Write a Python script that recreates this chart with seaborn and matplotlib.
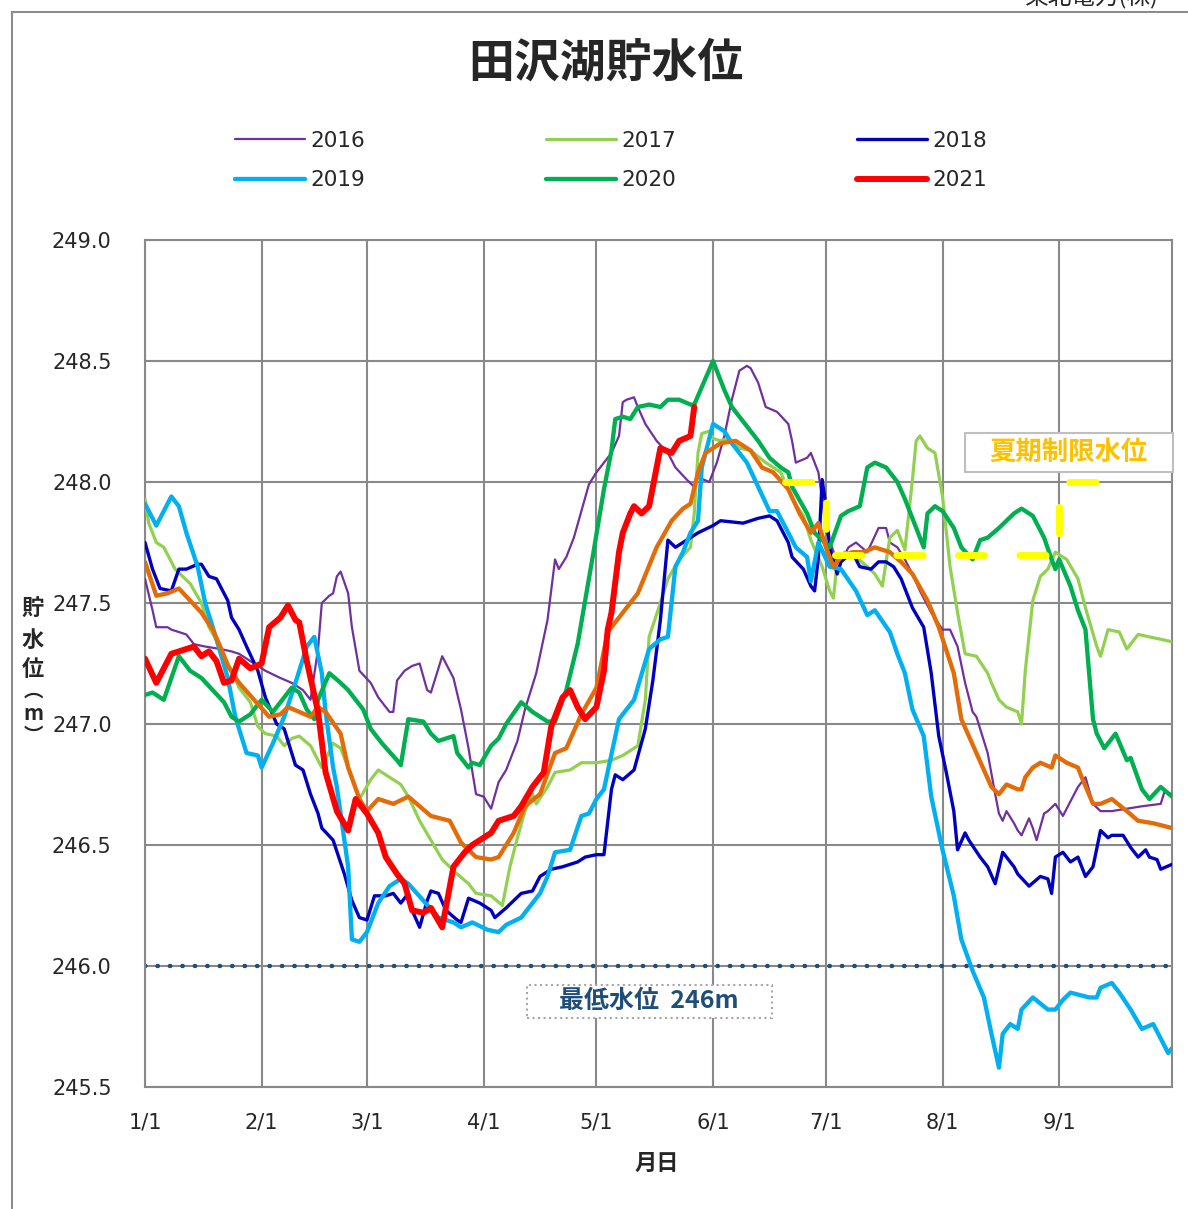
import pandas as pd
import seaborn as sns
import matplotlib.pyplot as plt
from matplotlib.patches import Rectangle

# 田沢湖 貯水位 (m)：(1/1 からの通し日数, 水位)
lv2016 = [(0, 247.60), (2, 247.47), (3, 247.40), (6, 247.40), (7, 247.39), (9, 247.38), (11, 247.37),
          (13, 247.33), (16, 247.32), (20, 247.31), (23, 247.30), (25, 247.29), (29, 247.25), (32, 247.22),
          (36, 247.19), (39, 247.17), (42, 247.14), (44, 247.10), (46, 247.31), (47, 247.50), (49, 247.53),
          (50, 247.54), (51, 247.61), (52, 247.63), (54, 247.54), (55, 247.40), (57, 247.22), (60, 247.17),
          (62, 247.11), (65, 247.05), (66, 247.05), (67, 247.18), (69, 247.22), (71, 247.24), (73, 247.25),
          (75, 247.14), (76, 247.13), (79, 247.28), (82, 247.19), (84, 247.06), (86, 246.90), (88, 246.71),
          (90, 246.70), (92, 246.65), (94, 246.76), (96, 246.81), (99, 246.93), (101, 247.06), (104, 247.21),
          (107, 247.43), (109, 247.68), (110, 247.64), (112, 247.69), (114, 247.77), (116, 247.88),
          (118, 247.99), (120, 248.04), (122, 248.08), (124, 248.12), (126, 248.19), (127, 248.33),
          (128, 248.34), (130, 248.35), (131, 248.31), (133, 248.24), (136, 248.17), (139, 248.12),
          (141, 248.06), (144, 248.01), (146, 247.98), (147, 248.02), (150, 248.00), (152, 248.08),
          (154, 248.19), (156, 248.34), (158, 248.46), (160, 248.48), (161, 248.47), (163, 248.41),
          (165, 248.31), (168, 248.29), (171, 248.24), (172, 248.17), (173, 248.08), (176, 248.10),
          (177, 248.12), (179, 248.04), (180, 247.93), (181, 247.80), (184, 247.67), (185, 247.67),
          (187, 247.73), (189, 247.75), (192, 247.71), (195, 247.81), (197, 247.81), (198, 247.75),
          (200, 247.73), (202, 247.68), (204, 247.62), (206, 247.55), (209, 247.46), (212, 247.39),
          (214, 247.39), (216, 247.32), (218, 247.17), (220, 247.05), (221, 247.03), (224, 246.88),
          (226, 246.71), (227, 246.63), (228, 246.60), (229, 246.64), (231, 246.59), (232, 246.56),
          (233, 246.54), (235, 246.61), (236, 246.57), (237, 246.52), (239, 246.63), (240, 246.64),
          (242, 246.67), (244, 246.62), (246, 246.68), (248, 246.74), (250, 246.78), (252, 246.67),
          (254, 246.64), (257, 246.64), (265, 246.66), (270, 246.67), (271, 246.72), (273, 246.71)]

lv2017 = [(0, 247.93), (1, 247.83), (3, 247.75), (5, 247.73), (8, 247.64), (10, 247.61), (12, 247.58),
          (15, 247.50), (17, 247.40), (20, 247.32), (23, 247.22), (25, 247.15), (28, 247.09), (30, 246.99),
          (32, 246.96), (35, 246.95), (37, 246.91), (39, 246.94), (41, 246.95), (44, 246.91), (46, 246.85),
          (47, 246.82), (50, 246.92), (52, 246.90), (55, 246.78), (57, 246.69), (60, 246.77), (62, 246.81),
          (65, 246.78), (68, 246.75), (70, 246.70), (73, 246.60), (76, 246.52), (79, 246.44), (83, 246.38),
          (86, 246.34), (88, 246.30), (92, 246.29), (95, 246.25), (97, 246.41), (99, 246.53), (101, 246.64),
          (103, 246.71), (104, 246.67), (107, 246.74), (109, 246.80), (113, 246.81), (116, 246.84),
          (120, 246.84), (124, 246.85), (127, 246.87), (131, 246.91), (133, 247.10), (134, 247.36),
          (137, 247.50), (139, 247.60), (142, 247.68), (145, 247.73), (146, 247.87), (147, 248.12),
          (148, 248.20), (150, 248.21), (151, 248.18), (153, 248.17), (155, 248.18), (158, 248.14),
          (161, 248.13), (165, 248.08), (169, 248.04), (172, 247.93), (175, 247.86), (177, 247.76),
          (180, 247.65), (182, 247.55), (183, 247.52), (184, 247.67), (186, 247.71), (189, 247.69),
          (192, 247.65), (194, 247.62), (196, 247.57), (198, 247.77), (200, 247.80), (202, 247.72),
          (204, 248.01), (205, 248.17), (206, 248.19), (208, 248.14), (210, 248.12), (212, 247.94),
          (214, 247.65), (216, 247.46), (218, 247.29), (221, 247.28), (224, 247.21), (225, 247.17),
          (227, 247.10), (229, 247.07), (232, 247.05), (233, 247.00), (234, 247.22), (236, 247.51),
          (238, 247.61), (240, 247.64), (242, 247.71), (245, 247.68), (248, 247.60), (250, 247.48),
          (253, 247.32), (254, 247.28), (256, 247.39), (259, 247.38), (261, 247.31), (264, 247.37),
          (267, 247.36), (270, 247.35), (273, 247.34)]

lv2018 = [(0, 247.75), (2, 247.64), (4, 247.56), (7, 247.55), (9, 247.64), (11, 247.64), (14, 247.66),
          (15, 247.66), (17, 247.61), (19, 247.60), (22, 247.51), (23, 247.44), (25, 247.39), (27, 247.32),
          (30, 247.22), (32, 247.11), (35, 247.00), (37, 246.98), (40, 246.83), (42, 246.81), (44, 246.71),
          (46, 246.63), (47, 246.57), (50, 246.52), (53, 246.38), (55, 246.27), (57, 246.20), (59, 246.19),
          (61, 246.29), (64, 246.29), (66, 246.30), (68, 246.26), (70, 246.30), (71, 246.23), (73, 246.16),
          (75, 246.27), (76, 246.31), (78, 246.30), (80, 246.23), (83, 246.19), (84, 246.18), (86, 246.28),
          (89, 246.26), (92, 246.23), (93, 246.20), (96, 246.24), (100, 246.30), (103, 246.31),
          (105, 246.37), (108, 246.40), (111, 246.41), (115, 246.43), (117, 246.45), (120, 246.46),
          (122, 246.46), (124, 246.73), (125, 246.79), (127, 246.77), (130, 246.81), (133, 246.98),
          (135, 247.18), (137, 247.43), (139, 247.76), (141, 247.73), (144, 247.76), (147, 247.79),
          (151, 247.82), (153, 247.84), (159, 247.83), (163, 247.85), (166, 247.86), (168, 247.84),
          (171, 247.75), (172, 247.69), (175, 247.64), (177, 247.57), (178, 247.55), (179, 247.69),
          (180, 248.01), (181, 247.90), (182, 247.73), (184, 247.62), (185, 247.67), (188, 247.71),
          (190, 247.65), (193, 247.64), (195, 247.67), (197, 247.67), (199, 247.65), (201, 247.60),
          (204, 247.48), (207, 247.40), (209, 247.21), (211, 246.95), (213, 246.80), (215, 246.64),
          (216, 246.48), (218, 246.55), (219, 246.52), (222, 246.45), (224, 246.41), (226, 246.34),
          (228, 246.47), (231, 246.41), (232, 246.38), (235, 246.33), (238, 246.37), (240, 246.36),
          (241, 246.30), (242, 246.45), (244, 246.47), (246, 246.43), (248, 246.45), (250, 246.37),
          (252, 246.41), (254, 246.56), (256, 246.53), (257, 246.54), (260, 246.54), (262, 246.49),
          (264, 246.45), (266, 246.48), (267, 246.45), (269, 246.44), (270, 246.40), (273, 246.42)]

lv2019 = [(0, 247.91), (3, 247.82), (7, 247.94), (9, 247.90), (11, 247.79), (14, 247.65), (16, 247.50),
          (19, 247.35), (22, 247.19), (24, 247.03), (27, 246.88), (30, 246.87), (31, 246.82), (34, 246.92),
          (37, 247.03), (40, 247.17), (43, 247.32), (45, 247.36), (47, 247.21), (48, 247.05), (50, 246.82),
          (51, 246.74), (54, 246.41), (55, 246.11), (57, 246.10), (59, 246.14), (62, 246.26), (65, 246.33),
          (68, 246.36), (70, 246.34), (74, 246.27), (78, 246.20), (82, 246.18), (84, 246.16), (87, 246.18),
          (91, 246.15), (94, 246.14), (96, 246.17), (100, 246.20), (103, 246.26), (105, 246.30),
          (107, 246.37), (109, 246.47), (113, 246.48), (116, 246.62), (118, 246.63), (120, 246.69),
          (122, 246.73), (126, 247.02), (130, 247.10), (134, 247.31), (137, 247.35), (139, 247.36),
          (141, 247.65), (143, 247.71), (145, 247.79), (147, 247.84), (148, 248.06), (151, 248.24),
          (154, 248.21), (156, 248.16), (160, 248.08), (163, 247.98), (166, 247.88), (168, 247.88),
          (171, 247.79), (173, 247.73), (176, 247.69), (177, 247.59), (179, 247.75), (182, 247.65),
          (185, 247.64), (189, 247.55), (192, 247.45), (194, 247.47), (198, 247.38), (200, 247.29),
          (202, 247.21), (204, 247.06), (207, 246.95), (209, 246.70), (212, 246.48), (215, 246.29),
          (217, 246.11), (220, 245.98), (223, 245.87), (225, 245.72), (227, 245.58), (228, 245.72),
          (230, 245.76), (232, 245.74), (233, 245.82), (236, 245.87), (240, 245.82), (242, 245.82),
          (244, 245.86), (246, 245.89), (251, 245.87), (253, 245.87), (254, 245.91), (257, 245.93),
          (259, 245.89), (262, 245.82), (265, 245.74), (268, 245.76), (270, 245.70), (272, 245.64),
          (273, 245.66)]

lv2020 = [(0, 247.12), (2, 247.13), (5, 247.10), (7, 247.19), (9, 247.28), (12, 247.22), (15, 247.19),
          (18, 247.14), (21, 247.09), (23, 247.03), (25, 247.01), (28, 247.04), (31, 247.10), (34, 247.05),
          (37, 247.11), (39, 247.15), (41, 247.13), (43, 247.06), (45, 247.02), (46, 247.10), (49, 247.21),
          (52, 247.17), (54, 247.14), (58, 247.06), (60, 246.98), (63, 246.92), (67, 246.85), (68, 246.83),
          (70, 247.02), (74, 247.01), (76, 246.96), (78, 246.93), (82, 246.95), (83, 246.88), (86, 246.82),
          (87, 246.84), (89, 246.83), (92, 246.91), (94, 246.94), (96, 247.00), (100, 247.09),
          (103, 247.05), (107, 247.01), (109, 247.01), (112, 247.14), (115, 247.33), (117, 247.51),
          (119, 247.69), (122, 247.97), (124, 248.13), (125, 248.26), (127, 248.27), (129, 248.26),
          (131, 248.31), (134, 248.32), (137, 248.31), (139, 248.34), (142, 248.34), (145, 248.32),
          (146, 248.32), (151, 248.50), (154, 248.38), (156, 248.31), (160, 248.23), (163, 248.17),
          (166, 248.10), (169, 248.06), (171, 248.04), (172, 247.98), (176, 247.87), (178, 247.79),
          (180, 247.76), (182, 247.73), (185, 247.86), (187, 247.88), (190, 247.90), (192, 248.06),
          (194, 248.08), (197, 248.06), (200, 248.00), (202, 247.93), (205, 247.81), (207, 247.73),
          (208, 247.87), (210, 247.90), (212, 247.88), (215, 247.81), (217, 247.73), (220, 247.68),
          (222, 247.76), (224, 247.77), (227, 247.81), (231, 247.87), (233, 247.89), (236, 247.86),
          (239, 247.77), (241, 247.68), (242, 247.64), (243, 247.68), (246, 247.57), (248, 247.47),
          (250, 247.39), (252, 247.02), (253, 246.96), (255, 246.90), (258, 246.96), (261, 246.85),
          (262, 246.86), (265, 246.73), (267, 246.69), (270, 246.74), (273, 246.70)]

lv2021 = [(0, 247.27), (3, 247.17), (7, 247.29), (13, 247.32), (15, 247.28), (17, 247.30), (19, 247.26),
          (21, 247.17), (23, 247.18), (25, 247.27), (28, 247.23), (31, 247.25), (33, 247.40), (36, 247.44),
          (38, 247.49), (40, 247.43), (41, 247.42), (43, 247.26), (46, 247.05), (48, 246.80), (51, 246.64),
          (54, 246.56), (56, 246.69), (59, 246.63), (62, 246.55), (64, 246.45), (67, 246.38), (69, 246.34),
          (71, 246.23), (74, 246.22), (76, 246.24), (79, 246.16), (82, 246.41), (85, 246.47), (87, 246.50),
          (90, 246.53), (92, 246.55), (94, 246.60), (98, 246.62), (100, 246.66), (103, 246.74),
          (106, 246.80), (108, 246.99), (111, 247.11), (113, 247.14), (115, 247.07), (117, 247.02),
          (120, 247.07), (122, 247.22), (123, 247.39), (124, 247.46), (126, 247.71), (127, 247.79),
          (129, 247.87), (130, 247.90), (132, 247.87), (134, 247.90), (137, 248.14), (140, 248.12),
          (142, 248.17), (145, 248.19), (146, 248.31)]

# 平均 (凡例なし)
lv_avg = [(0, 247.67), (3, 247.53), (6, 247.54), (9, 247.56), (12, 247.51), (15, 247.46), (18, 247.39),
          (20, 247.32), (22, 247.24), (25, 247.17), (29, 247.10), (33, 247.03), (36, 247.04), (38, 247.07),
          (41, 247.05), (44, 247.03), (46, 247.07), (48, 247.05), (52, 246.96), (54, 246.82), (57, 246.69),
          (59, 246.64), (62, 246.69), (66, 246.67), (70, 246.70), (73, 246.66), (76, 246.62), (81, 246.60),
          (84, 246.51), (88, 246.45), (92, 246.44), (94, 246.45), (98, 246.55), (101, 246.66),
          (105, 246.71), (109, 246.88), (112, 246.90), (116, 247.04), (120, 247.15), (123, 247.38),
          (128, 247.48), (131, 247.54), (136, 247.73), (140, 247.84), (143, 247.89), (145, 247.91),
          (147, 248.04), (149, 248.12), (153, 248.16), (157, 248.17), (161, 248.13), (164, 248.06),
          (167, 248.04), (171, 247.97), (174, 247.87), (177, 247.79), (179, 247.83), (181, 247.73),
          (183, 247.65), (185, 247.69), (188, 247.71), (191, 247.71), (194, 247.73), (198, 247.71),
          (201, 247.67), (204, 247.62), (208, 247.51), (211, 247.40), (215, 247.21), (217, 247.02),
          (221, 246.88), (225, 246.74), (227, 246.71), (229, 246.75), (232, 246.73), (233, 246.73),
          (234, 246.78), (236, 246.82), (238, 246.84), (241, 246.82), (242, 246.87), (245, 246.84),
          (248, 246.82), (249, 246.78), (252, 246.67), (254, 246.67), (257, 246.69), (261, 246.64),
          (264, 246.60), (268, 246.59), (273, 246.57)]

# 夏期制限水位 と 最低水位
limit_days = [170, 181, 181, 243, 243, 260]
limit_levels = [248.0, 248.0, 247.7, 247.7, 248.0, 248.0]
min_days = [0, 273]
min_levels = [246.0, 246.0]

month_ticks = [0, 31, 59, 90, 120, 151, 181, 212, 243]
month_labels = ["1/1", "2/1", "3/1", "4/1", "5/1", "6/1", "7/1", "8/1", "9/1"]
y_ticks = [245.5, 246.0, 246.5, 247.0, 247.5, 248.0, 248.5, 249.0]

sns.set_style("white")
plt.rcParams["font.family"] = ["DejaVu Sans", "Noto Sans CJK JP"]
JP = ["Noto Sans CJK JP", "DejaVu Sans"]
GRID = "#898989"

fig = plt.figure(figsize=(11.88, 12.09), dpi=100)
ax = fig.add_axes([145 / 1188, 1 - 1087 / 1209, 1027 / 1188, 847 / 1209])

series = [
    ("2016", lv2016, "#7030a0", 1.6),
    ("2017", lv2017, "#92d050", 2.3),
    ("2018", lv2018, "#0000c0", 2.4),
    ("2019", lv2019, "#00b0f0", 3.1),
    ("2020", lv2020, "#00b050", 3.1),
]
for name, pts, color, lw in series:
    df = pd.DataFrame(pts, columns=["day", "level"])
    sns.lineplot(data=df, x="day", y="level", color=color, lw=lw, label=name,
                 estimator=None, sort=False, ax=ax, zorder=3)

# 平均
df = pd.DataFrame(lv_avg, columns=["day", "level"])
sns.lineplot(data=df, x="day", y="level", color="#e36c09", lw=3.1,
             estimator=None, sort=False, ax=ax, zorder=3)

# 2021 (最前面)
df = pd.DataFrame(lv2021, columns=["day", "level"])
sns.lineplot(data=df, x="day", y="level", color="#ff0000", lw=4.3, label="2021",
             estimator=None, sort=False, ax=ax, zorder=4)

# 最低水位 (点線)
sns.lineplot(x=min_days, y=min_levels, color="#1f4e79", lw=3.2,
             linestyle=(0, (0.1, 2.7)), dash_capstyle="round",
             estimator=None, sort=False, ax=ax, zorder=2.5)

# 夏期制限水位 (黄色の破線)
sns.lineplot(x=limit_days, y=limit_levels, color="#ffff00", lw=5,
             linestyle=(0, (3.8, 5.05)), dash_capstyle="round",
             estimator=None, sort=False, ax=ax, zorder=5)

ax.set_xlim(0, 273)
ax.set_ylim(245.5, 249.0)
ax.set_xticks(month_ticks)
ax.set_xticklabels(month_labels)
ax.set_yticks(y_ticks)
ax.set_yticklabels([f"{v:.1f}" for v in y_ticks])
ax.set_xlabel("")
ax.set_ylabel("")
ax.grid(True, color=GRID, lw=1.5)
ax.set_axisbelow(True)
for sp in ax.spines.values():
    sp.set_visible(True)
    sp.set_color(GRID)
    sp.set_linewidth(1.5)
ax.tick_params(axis="y", length=0, pad=24, labelsize=15)
ax.tick_params(axis="x", length=0, pad=18, labelsize=15)

# 凡例 (2行×3列)
handles, labels = ax.get_legend_handles_labels()
if ax.get_legend() is not None:
    ax.get_legend().remove()
hmap = dict(zip(labels, handles))
order = ["2016", "2019", "2017", "2020", "2018", "2021"]
fig.legend([hmap[k] for k in order], order, loc="center",
           bbox_to_anchor=(611 / 1188, 1 - 160.5 / 1209), ncol=3, frameon=False,
           fontsize=15.5, handlelength=3.25, handletextpad=0.25, columnspacing=8.4,
           labelspacing=0.9, borderpad=0)

# 注記ボックス
ax.add_patch(Rectangle((0.798, 0.726), 0.203, 0.046, transform=ax.transAxes,
                       facecolor="white", edgecolor="#bfbfbf", lw=1.5, clip_on=False, zorder=6))
ax.text(0.899, 0.749, "夏期制限水位", transform=ax.transAxes, ha="center", va="center",
        fontsize=19, fontweight="bold", color="#ffc000", family=JP, zorder=7)

ax.add_patch(Rectangle((0.372, 0.0815), 0.2385, 0.039, transform=ax.transAxes,
                       facecolor="white", edgecolor="#a6a6a6", lw=1.5, linestyle=":",
                       clip_on=False, zorder=6))
ax.text(0.491, 0.101, "最低水位  246m", transform=ax.transAxes, ha="center", va="center",
        fontsize=18, fontweight="bold", color="#1f4e79", family=JP, zorder=7)

# タイトル・軸ラベル
fig.text(606 / 1188, 1 - 63 / 1209, "田沢湖貯水位", ha="center", va="center",
         fontsize=33, fontweight="bold", family=JP)
fig.text(657 / 1188, 1 - 1163 / 1209, "月日", ha="center", va="center",
         fontsize=16, fontweight="bold", family=JP)
for ch, yp, fs in zip(["貯", "水", "位", "︵", "m", "︶"],
                      [608, 640, 669, 691, 713, 736],
                      [16, 16, 16, 14, 15, 14]):
    fig.text(33 / 1188, 1 - yp / 1209, ch, ha="center", va="center",
             fontsize=fs, fontweight="bold", family=JP)

fig.text(1025 / 1188, 1 - 4 / 1209, "東北電力(株)", ha="left", va="baseline",
         fontsize=17, family=JP)

# グラフエリアの枠
fig.add_artist(Rectangle((12 / 1188, -0.1), 2, 1.1 - 12 / 1209, transform=fig.transFigure,
                         fill=False, edgecolor="#8c8c8c", lw=1.5))

plt.savefig("out.png", dpi=100)
